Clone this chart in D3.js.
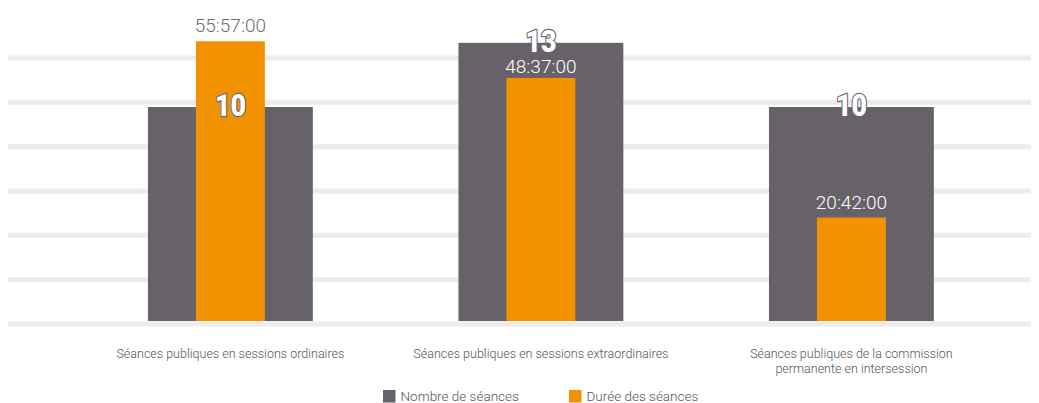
<!DOCTYPE html>
<html>
<head>
<meta charset="utf-8">
<script src="https://cdn.jsdelivr.net/npm/d3@7"></script>
<style>
  body { margin: 0; background: #fff; }
  text { font-family: Roboto, "Liberation Sans", sans-serif; }
</style>
</head>
<body>
<script>
// chart data
var categories = [
    ["Séances publiques en sessions ordinaires"],
    ["Séances publiques en sessions extraordinaires"],
    ["Séances publiques de la commission", "permanente en intersession"]
];
var seanceCounts = [10, 13, 10];
var durationLabels = ["55:57:00", "48:37:00", "20:42:00"];
var durationHours = [55 + 57 / 60, 48 + 37 / 60, 20 + 42 / 60];
var gridSteps = [0, 1, 2, 3, 4, 5, 6];
var seriesNames = ["Nombre de séances", "Durée des séances"];

var grayColor = "#67626a",
    orangeColor = "#f39200",
    gridColor = "#ececec";

width = 1039;
height = 403;
baseline = 321;

var svg = d3.select("body").append("svg")
    .attr("width", width)
    .attr("height", height);

var idx = categories.map(function (d, i) { return i; });

// Scales
x = d3.scaleBand().domain(idx).range([2.3, 1079.5]).padding(0.469);
yCount = d3.scaleLinear().domain([0, 15]).range([baseline, 0]);
yDur = d3.scaleLinear().domain([0, 64.2]).range([baseline, 0]);
yGrid = d3.scaleLinear().domain([0, 6]).range([324, 58]);

var innerW = x.bandwidth() * 0.418;

// grid
svg.append("g").selectAll("line")
    .data(gridSteps)
    .enter().append("line")
    .attr("x1", 8)
    .attr("x2", 1031)
    .attr("y1", function (d) { return yGrid(d); })
    .attr("y2", function (d) { return yGrid(d); })
    .style("stroke", gridColor)
    .style("stroke-width", 5);

// gray bars (count)
svg.append("g").selectAll("rect")
    .data(idx)
    .enter().append("rect")
    .attr("x", function (i) { return x(i); })
    .attr("width", x.bandwidth())
    .attr("y", function (i) { return yCount(seanceCounts[i]); })
    .attr("height", function (i) { return baseline - yCount(seanceCounts[i]); })
    .style("fill", grayColor);

// orange bars (duration)
svg.append("g").selectAll("rect")
    .data(idx)
    .enter().append("rect")
    .attr("x", function (i) { return x(i) + (x.bandwidth() - innerW) / 2; })
    .attr("width", innerW)
    .attr("y", function (i) { return yDur(durationHours[i]); })
    .attr("height", function (i) { return baseline - yDur(durationHours[i]); })
    .style("fill", orangeColor);

// duration label baseline, pushed down when it would touch the count label
function durY(i) {
    var yb = yDur(durationHours[i]) - 9;
    var cTop = yCount(seanceCounts[i]) - 17, cBot = yCount(seanceCounts[i]) + 10;
    if (yb - 15 < cBot + 4 && yb > cTop) yb = yDur(durationHours[i]) - 4.5;
    return yb;
}

// duration labels
svg.append("g").selectAll("text")
    .data(idx)
    .enter().append("text")
    .attr("x", function (i) { return x(i) + x.bandwidth() / 2; })
    .attr("y", durY)
    .attr("text-anchor", "middle")
    .style("font-size", "19px")
    .style("font-weight", 300)
    .style("fill", function (i) {
        return durY(i) - 14 > yCount(seanceCounts[i]) ? "#ffffff" : "#6d6d6d";
    })
    .text(function (i) { return durationLabels[i]; });

// count labels
svg.append("g").selectAll("text")
    .data(idx)
    .enter().append("text")
    .attr("x", function (i) { return x(i) + x.bandwidth() / 2; })
    .attr("y", function (i) { return yCount(seanceCounts[i]) + 9; })
    .attr("text-anchor", "middle")
    .attr("textLength", 31)
    .attr("lengthAdjust", "spacingAndGlyphs")
    .style("font-size", "32px")
    .style("font-weight", 900)
    .style("fill", "#ffffff")
    .style("stroke", "#6a666c")
    .style("stroke-width", 2.5)
    .style("paint-order", "stroke")
    .style("stroke-linejoin", "round")
    .text(function (i) { return seanceCounts[i]; });

// category labels
var catLabels = svg.append("g").selectAll("text")
    .data(idx)
    .enter().append("text")
    .attr("text-anchor", "middle")
    .style("font-size", "12.5px")
    .style("font-weight", 300)
    .style("fill", "#555");

catLabels.selectAll("tspan")
    .data(function (i) {
        return categories[i].map(function (t) { return {i: i, t: t}; });
    })
    .enter().append("tspan")
    .attr("x", function (d) { return x(d.i) + x.bandwidth() / 2; })
    .attr("y", function (d, j) { return 358 + j * 15; })
    .text(function (d) { return d.t; });

// legend
var legendX = [383, 569];
var legend = svg.append("g").selectAll("g")
    .data(seriesNames)
    .enter().append("g")
    .attr("transform", function (d, i) { return "translate(" + legendX[i] + ",390)"; });

legend.append("rect")
    .attr("width", 12.5)
    .attr("height", 12.5)
    .style("fill", function (d, i) { return i == 0 ? grayColor : orangeColor; });

legend.append("text")
    .attr("x", 17.5)
    .attr("y", 11)
    .style("font-size", "13.5px")
    .style("font-weight", 300)
    .style("fill", "#555")
    .text(function (d) { return d; });
</script>
</body>
</html>
